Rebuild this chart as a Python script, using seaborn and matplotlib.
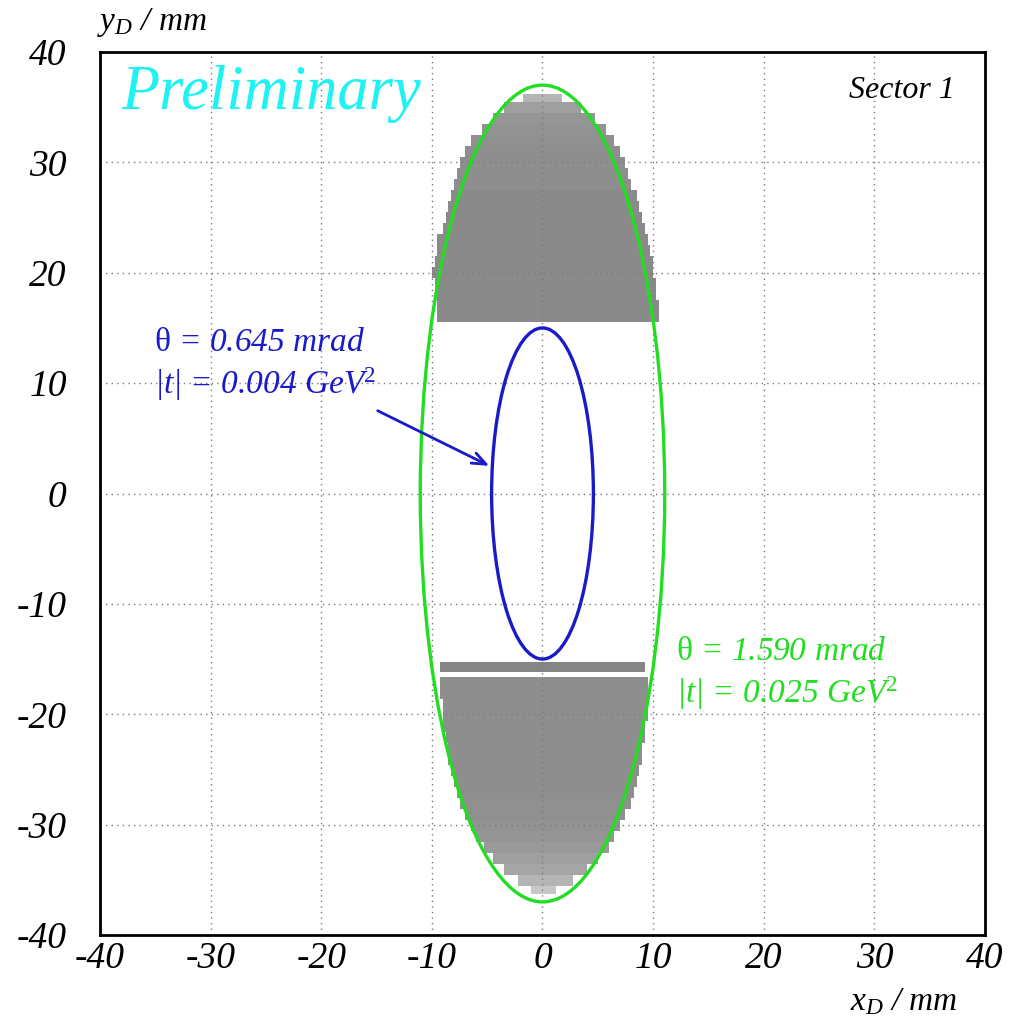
import numpy as np
import pandas as pd
import matplotlib
matplotlib.use("Agg")
import matplotlib.pyplot as plt
import seaborn as sns
from matplotlib.patches import Ellipse

# ---------------- data ----------------
# hit bands (rows of the detector acceptance), in mm
band_lo = [15.5, 16.5, 17.5, 18.5, 19.5, 20.5, 21.5, 22.5, 23.5, 24.5, 25.5,
           26.5, 27.5, 28.5, 29.5, 30.5, 31.5, 32.5, 33.5, 34.5, 35.5,
           -16.2, -17.6, -18.6, -19.6, -20.6, -21.6, -22.6, -23.6, -24.6, -25.6,
           -26.6, -27.6, -28.6, -29.6, -30.6, -31.6, -32.6, -33.6, -34.6, -35.6, -36.3]
band_hi = [16.5, 17.5, 18.5, 19.5, 20.5, 21.5, 22.5, 23.5, 24.5, 25.5, 26.5,
           27.5, 28.5, 29.5, 30.5, 31.5, 32.5, 33.5, 34.5, 35.5, 36.2,
           -15.3, -16.6, -17.6, -18.6, -19.6, -20.6, -21.6, -22.6, -23.6, -24.6,
           -25.6, -26.6, -27.6, -28.6, -29.6, -30.6, -31.6, -32.6, -33.6, -34.6, -35.6]
band_left = [-9.4, -9.6, -9.7, -9.8, -9.9, -9.8, -9.6, -9.4, -9.1, -8.8, -8.5,
             -8.2, -8.0, -7.8, -7.5, -7.0, -6.4, -5.6, -4.6, -3.4, -1.8,
             -9.3, -9.3, -9.2, -9.1, -9.0, -8.9, -8.7, -8.6, -8.4, -8.2,
             -8.0, -7.7, -7.4, -7.0, -6.6, -6.0, -5.3, -4.5, -3.5, -2.3, -1.0]
band_right = [10.4, 10.4, 10.3, 10.2, 10.1, 10.0, 9.8, 9.6, 9.3, 9.0, 8.7,
              8.4, 8.1, 7.8, 7.5, 7.0, 6.5, 5.8, 4.8, 3.5, 1.8,
              9.2, 9.4, 9.5, 9.5, 9.4, 9.3, 9.2, 9.1, 8.9, 8.7,
              8.5, 8.2, 7.9, 7.5, 7.1, 6.5, 5.9, 5.0, 4.0, 2.7, 1.2]
band_density = [0.54, 0.54, 0.54, 0.54, 0.54, 0.54, 0.54, 0.54, 0.54, 0.54, 0.54,
                0.54, 0.53, 0.53, 0.53, 0.53, 0.52, 0.51, 0.50, 0.47, 0.40,
                0.56, 0.53, 0.53, 0.53, 0.53, 0.53, 0.53, 0.53, 0.53, 0.53,
                0.53, 0.53, 0.52, 0.52, 0.51, 0.50, 0.49, 0.47, 0.45, 0.40, 0.33]

# acceptance ellipses (semi-axes in mm)
ring_names = ["outer", "inner"]
ring_semi_x = [11.05, 4.6]
ring_semi_y = [37.0, 15.0]
ring_colors = ["#22dd22", "#1a1ac8"]
ring_text_1 = [r"$\mathrm{θ}$ = 1.590 mrad", r"$\mathrm{θ}$ = 0.645 mrad"]
ring_text_2 = [r"|t| = 0.025 GeV$^{2}$", r"|t| = 0.004 GeV$^{2}$"]
ring_text_x = [12.1, -35.1]
ring_text_y = [-15.1, 12.95]

major_ticks = [-40, -30, -20, -10, 0, 10, 20, 30, 40]
tick_labels = ["-40", "-30", "-20", "-10", "0", "10", "20", "30", "40"]

# ---------------- build histogram cells ----------------
bin_w = 0.25
x_edges = np.arange(-12.0, 12.0 + bin_w / 2, bin_w)
x_centers = 0.5 * (x_edges[:-1] + x_edges[1:])
rows = []
for lo, hi, l, r, d in zip(band_lo, band_hi, band_left, band_right, band_density):
    xs = x_centers[(x_centers >= l) & (x_centers <= r)]
    for xv in xs:
        rows.append((xv, 0.5 * (lo + hi), d))
cells = pd.DataFrame(rows, columns=["x", "y", "w"])
y_edges = np.array(sorted(set(band_lo) | set(band_hi)))

# ---------------- style ----------------
sns.set_style("white")
plt.rcParams["font.family"] = ["Liberation Serif", "DejaVu Serif"]
plt.rcParams["font.style"] = "italic"
plt.rcParams["text.color"] = "black"
plt.rcParams["xtick.color"] = "black"
plt.rcParams["ytick.color"] = "black"
plt.rcParams["mathtext.fontset"] = "custom"
plt.rcParams["mathtext.rm"] = "Liberation Serif:style=normal"
plt.rcParams["mathtext.it"] = "Liberation Serif:style=italic"
plt.rcParams["mathtext.bf"] = "Liberation Serif:weight=bold"
plt.rcParams["axes.unicode_minus"] = False

fig = plt.figure(figsize=(10.2, 10.29), dpi=100)
ax = fig.add_axes([100 / 1020, 1 - 935 / 1029, 885 / 1020, 883 / 1029])

sns.histplot(data=cells, x="x", y="y", weights="w", bins=(x_edges, y_edges),
             cmap="Greys", vmin=0, vmax=1, ax=ax, zorder=1)

ax.set_xlim(-40, 40)
ax.set_ylim(-40, 40)
ax.set_xlabel("")
ax.set_ylabel("")

# grid
for v in major_ticks[1:-1]:
    ax.axvline(v, color="#7a7a7a", lw=1.0, ls=(0, (1, 3)), zorder=2)
    ax.axhline(v, color="#7a7a7a", lw=1.0, ls=(0, (1, 3)), zorder=2)

# ellipses + labels
for a, b, c, t1, t2, tx, ty in zip(ring_semi_x, ring_semi_y, ring_colors,
                                   ring_text_1, ring_text_2, ring_text_x, ring_text_y):
    ax.add_patch(Ellipse((0, 0), 2 * a, 2 * b, fill=False, ec=c, lw=2.4, zorder=3))
    ax.text(tx, ty, t1, color=c, fontsize=24, ha="left", va="baseline", zorder=4)
    ax.text(tx, ty - 3.9, t2, color=c, fontsize=24, ha="left", va="baseline", zorder=4)

# arrow to inner ellipse
ax.annotate("", xy=(-4.8, 2.5), xytext=(-14.9, 7.5),
            arrowprops=dict(arrowstyle="->,head_length=1.0,head_width=0.4",
                            color=ring_colors[1], lw=2.0, shrinkA=0, shrinkB=0),
            zorder=4)

ax.text(-38.07, 34.87, "Preliminary", color="#1ff2f2", fontsize=45,
        ha="left", va="baseline", zorder=4)
ax.text(37.25, 35.87, "Sector 1", color="black", fontsize=23,
        ha="right", va="baseline", zorder=4)

# ticks
ax.set_xticks(major_ticks)
ax.set_yticks(major_ticks)
ax.set_xticklabels(tick_labels)
ax.set_yticklabels(tick_labels)
ax.set_xticks(np.arange(-40, 41, 2), minor=True)
ax.set_yticks(np.arange(-40, 41, 2), minor=True)
ax.tick_params(axis="both", which="major", direction="in", length=14.4, width=1.2,
               labelsize=27, color="black", labelcolor="black", top=False, right=False)
ax.tick_params(axis="both", which="minor", direction="in", length=8, width=1.0,
               color="black", top=False, right=False)
ax.tick_params(axis="x", which="major", pad=5)
ax.tick_params(axis="y", which="major", pad=24)
for lab in ax.get_xticklabels() + ax.get_yticklabels():
    lab.set_fontstyle("italic")
for s in ax.spines.values():
    s.set_linewidth(2.0)
    s.set_color("black")
    s.set_zorder(5)

# axis titles
fig.text(97 / 1020, 1 - 30 / 1029, r"$y_{D}$ / mm", fontsize=24,
         ha="left", va="baseline")
fig.text(958 / 1020, 1 - 1010 / 1029, r"$x_{D}$ / mm", fontsize=24,
         ha="right", va="baseline")

fig.savefig("out.png", dpi=100)
